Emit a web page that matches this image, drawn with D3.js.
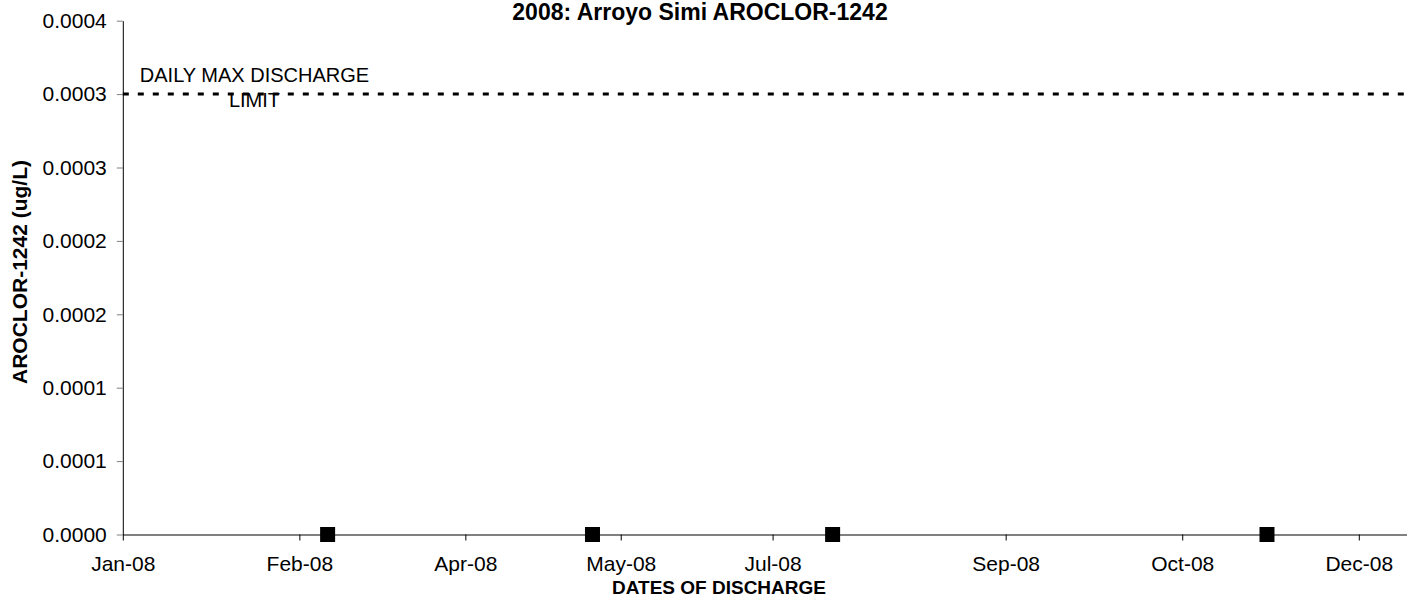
<!DOCTYPE html>
<html>
<head>
<meta charset="utf-8">
<script src="https://d3js.org/d3.v7.min.js"></script>
<style>
  body { margin: 0; background: #fff; }
  text { font-family: 'Liberation Sans', Arial, sans-serif; fill: #000; }
</style>
</head>
<body>
<div id="chart"></div>
<script>
let parseDate = d3.timeParse('%Y-%m-%d');

// Sample dates and results (all non-detect, 0)
let sampleDates = ['2008-02-28', '2008-05-13', '2008-07-20', '2008-11-20'];
let sampleValues = [0, 0, 0, 0];

// Daily maximum discharge limit
let limitDates = ['2008-01-01', '2008-12-31'];
let limitValues = [0.0003, 0.0003];

// Axis ticks
let xTickDates = ['2008-01-01', '2008-02-20', '2008-04-07', '2008-05-21', '2008-07-03', '2008-09-07', '2008-10-27', '2008-12-16'];
let xTickLabels = ['Jan-08', 'Feb-08', 'Apr-08', 'May-08', 'Jul-08', 'Sep-08', 'Oct-08', 'Dec-08'];
let yTickValues = [0, 0.00005, 0.0001, 0.00015, 0.0002, 0.00025, 0.0003, 0.00035];
let yTickLabels = ['0.0000', '0.0001', '0.0001', '0.0002', '0.0002', '0.0003', '0.0003', '0.0004'];

let W = 1407, H = 598;
let plotLeft = 122.8, plotTop = 20.7, plotBottom = 534.5;
let pxPerDay = 1236 / 350;

let svg = d3.select('#chart')
  .append('svg')
  .attr('width', W)
  .attr('height', H);

let x = d3.scaleTime()
  .domain([parseDate('2008-01-01'), parseDate('2008-12-31')])
  .range([plotLeft, plotLeft + 365 * pxPerDay]);

let y = d3.scaleLinear()
  .domain([0, 0.00035])
  .range([plotBottom, plotTop]);

// Title
svg.append('text')
  .attr('x', 700)
  .attr('y', 20)
  .attr('font-size', '23px')
  .attr('font-weight', 'bold')
  .attr('text-anchor', 'middle')
  .text('2008: Arroyo Simi AROCLOR-1242');

// X axis
let xAxisCall = d3.axisBottom(x)
  .tickValues(xTickDates.map(parseDate))
  .tickSize(6)
  .tickSizeOuter(0)
  .tickFormat((d, i) => xTickLabels[i]);

let xAxis = svg.append('g')
  .attr('class', 'x axis')
  .attr('transform', 'translate(0, ' + plotBottom + ')')
  .call(xAxisCall);

xAxis.select('.domain')
  .attr('stroke', '#808080')
  .attr('stroke-width', 2);

xAxis.selectAll('.tick line')
  .attr('stroke', '#000');

xAxis.selectAll('.tick text')
  .attr('y', 22)
  .attr('dy', '0.71em')
  .attr('font-size', '21px')
  .attr('font-family', null);

// Y axis
let yAxisCall = d3.axisLeft(y)
  .tickValues(yTickValues)
  .tickSize(6)
  .tickSizeOuter(0)
  .tickFormat((d, i) => yTickLabels[i]);

let yAxis = svg.append('g')
  .attr('class', 'y axis')
  .attr('transform', 'translate(' + plotLeft + ', 0)')
  .call(yAxisCall);

yAxis.select('.domain')
  .attr('stroke', '#000');

yAxis.selectAll('.tick line')
  .attr('stroke', '#808080');

yAxis.selectAll('.tick text')
  .attr('x', -16)
  .attr('font-size', '21px')
  .attr('font-family', null);

// X Label
svg.append('text')
  .attr('x', 719)
  .attr('y', 594)
  .attr('font-size', '19px')
  .attr('font-weight', 'bold')
  .attr('text-anchor', 'middle')
  .text('DATES OF DISCHARGE');

// Y Label
svg.append('text')
  .attr('transform', 'translate(27, 272) rotate(-90)')
  .attr('font-size', '21px')
  .attr('font-weight', 'bold')
  .attr('text-anchor', 'middle')
  .text('AROCLOR-1242 (ug/L)');

// Limit line
let limitData = limitDates.map((d, i) => ({ date: parseDate(d), value: limitValues[i] }));

svg.append('path')
  .datum(limitData)
  .attr('fill', 'none')
  .attr('stroke', '#000')
  .attr('stroke-width', 3)
  .attr('stroke-dasharray', '6,9')
  .attr('d', d3.line().x(d => x(d.date)).y(d => y(d.value)));

// Limit label
let limitLabel = svg.append('text')
  .attr('font-size', '20px')
  .attr('text-anchor', 'middle');

limitLabel.append('tspan')
  .attr('x', 254.5)
  .attr('y', 82)
  .text('DAILY MAX DISCHARGE');

limitLabel.append('tspan')
  .attr('x', 254.5)
  .attr('y', 107)
  .text('LIMIT');

// Sample markers
let sampleData = sampleDates.map((d, i) => ({ date: parseDate(d), value: sampleValues[i] }));

svg.selectAll('rect.marker')
  .data(sampleData)
  .enter()
  .append('rect')
  .attr('class', 'marker')
  .attr('x', d => x(d.date) - 7.5)
  .attr('y', d => y(d.value) - 7.5)
  .attr('width', 15)
  .attr('height', 15)
  .attr('fill', '#000');
</script>
</body>
</html>
